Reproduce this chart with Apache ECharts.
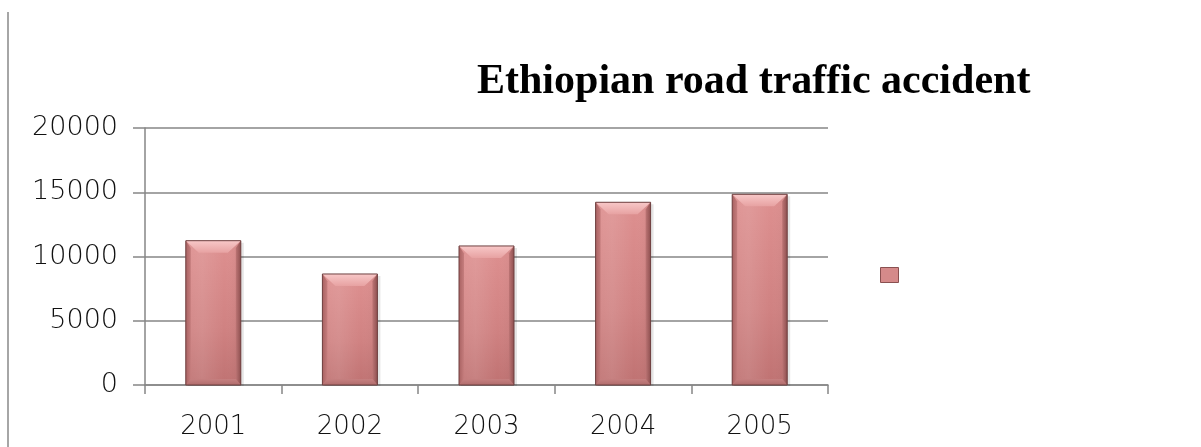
<!DOCTYPE html>
<html><head><meta charset="utf-8">
<script src="https://cdn.jsdelivr.net/npm/echarts@6/dist/echarts.min.js"></script>
<style>html,body{margin:0;padding:0;background:#fff}#c{width:1201px;height:447px}</style>
</head><body><div id="c"></div>
<script>
const categories = ['2001','2002','2003','2004','2005'];
const accidents = [11230, 8640, 10820, 14220, 14840];
const yTicks = [0, 5000, 10000, 15000, 20000];
const seriesName = 'Road traffic accidents';

const chart = echarts.init(document.getElementById('c'));
const hGrad = (stops) => ({type: 'linear', x: 0, y: 0, x2: 1, y2: 0,
  colorStops: stops.map(s => ({offset: s[0], color: s[1]}))});
const vGrad = (stops) => ({type: 'linear', x: 0, y: 0, x2: 0, y2: 1,
  colorStops: stops.map(s => ({offset: s[0], color: s[1]}))});

function renderBar(params, api) {
  const top = api.coord([api.value(0), api.value(1)]);
  const base = api.coord([api.value(0), 0]);
  const w = 55, bt = 12, bs = 5, bb = 6;
  const x0 = top[0] - w / 2, x1 = top[0] + w / 2;
  const y0 = top[1], y1 = base[1];
  return {
    type: 'group',
    children: [
      {type: 'rect', shape: {x: x0 + 2, y: y0 + 2, width: w + 1, height: y1 - y0 - 1},
       style: {fill: 'rgba(0,0,0,0.10)'}},
      {type: 'rect', shape: {x: x0, y: y0, width: w, height: y1 - y0},
       style: {fill: vGrad([[0, '#de9090'], [0.6, '#d08282'], [1, '#bf7272']])}},
      {type: 'rect', shape: {x: x0, y: y0, width: w, height: y1 - y0},
       style: {fill: hGrad([[0, 'rgba(255,255,255,0.05)'], [0.3, 'rgba(255,255,255,0.10)'], [0.7, 'rgba(255,255,255,0)'], [1, 'rgba(0,0,0,0.05)']])}},
      {type: 'polygon', shape: {points: [[x0, y0], [x1, y0], [x1 - bs - 8, y0 + bt], [x0 + bs + 8, y0 + bt]]},
       style: {fill: vGrad([[0, '#f8c8c8'], [1, '#e7a2a2']])}},
      {type: 'polygon', shape: {points: [[x0, y0], [x0 + bs, y0 + bt * 0.6], [x0 + bs, y1 - bb], [x0, y1]]},
       style: {fill: hGrad([[0, '#a96262'], [1, '#c57d7d']])}},
      {type: 'polygon', shape: {points: [[x1, y0], [x1 - bs, y0 + bt * 0.6], [x1 - bs, y1 - bb], [x1, y1]]},
       style: {fill: hGrad([[0, '#bd7575'], [1, '#8e5050']])}},
      {type: 'polygon', shape: {points: [[x0, y1], [x0 + bs, y1 - bb], [x1 - bs, y1 - bb], [x1, y1]]},
       style: {fill: vGrad([[0, '#c68080'], [1, '#b06c6c']])}},
      {type: 'rect', shape: {x: x0, y: y0, width: w, height: y1 - y0},
       style: {fill: 'none', stroke: '#6e4040', lineWidth: 1}}
    ]
  };
}

chart.setOption({
  animation: false,
  title: {
    text: 'Ethiopian road traffic accident',
    left: 472, top: 56,
    textStyle: {fontFamily: 'Liberation Serif', fontWeight: 'bold', fontSize: 42, color: '#000'}
  },
  legend: {
    data: [{name: seriesName, itemStyle: {color: '#d58a8a', borderColor: '#8a5050', borderWidth: 1}}],
    left: 875, top: 262, orient: 'vertical',
    icon: 'rect', itemWidth: 18, itemHeight: 15,
    formatter: () => ''
  },
  grid: {left: 145, right: 373, top: 128, bottom: 62},
  xAxis: {
    type: 'category', data: categories,
    axisLine: {lineStyle: {color: '#868686', width: 1.5}},
    axisTick: {show: true, length: 9, alignWithLabel: false, lineStyle: {color: '#868686', width: 1.5}},
    axisLabel: {margin: 29, fontFamily: 'DejaVu Sans', fontWeight: 200, fontSize: 26, color: '#111'}
  },
  yAxis: {
    type: 'value', min: 0, max: 20000, interval: 5000,
    axisLine: {show: true, lineStyle: {color: '#868686', width: 1.5}},
    axisTick: {show: true, length: 12, lineStyle: {color: '#868686', width: 1.5}},
    splitLine: {lineStyle: {color: '#868686', width: 1.5}},
    axisLabel: {margin: 27, fontFamily: 'DejaVu Sans', fontWeight: 200, fontSize: 27, color: '#111',
      formatter: v => yTicks.includes(v) ? String(v) : ''}
  },
  series: [{
    name: seriesName, type: 'custom', renderItem: renderBar,
    data: accidents.map((v, i) => [i, v]),
    encode: {x: 0, y: 1},
    itemStyle: {color: '#d08585'}
  }],
  graphic: [{
    type: 'line', shape: {x1: 8, y1: 12, x2: 8, y2: 447},
    style: {stroke: '#888', lineWidth: 1.5}
  }]
});
</script></body></html>
